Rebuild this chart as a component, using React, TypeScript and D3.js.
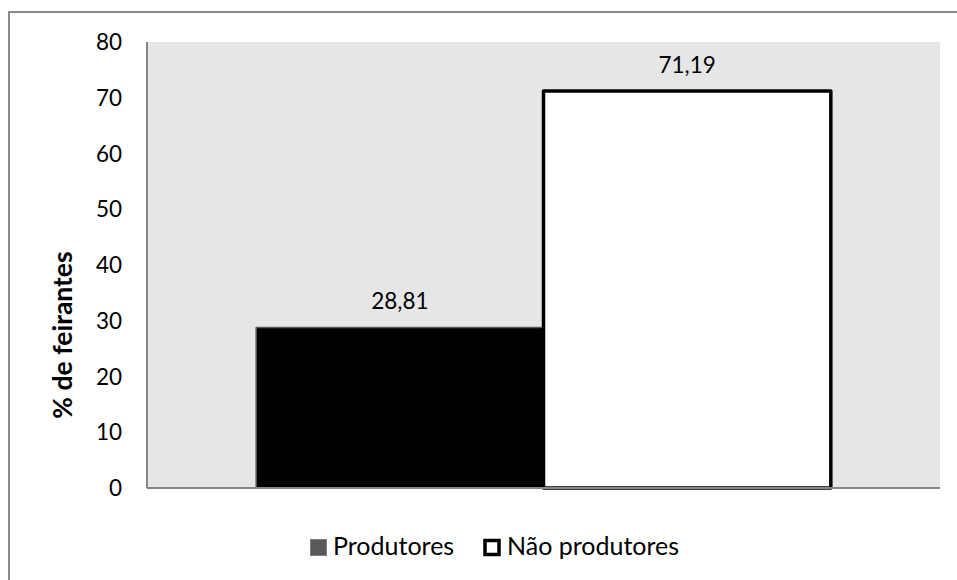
import React from "react";
import * as d3 from "d3";

const categories = ["Feirantes"];
const seriesNames = ["Produtores", "Não produtores"];
const seriesValues = [28.81, 71.19];
const valueLabels = ["28,81", "71,19"];
const yTicks = [0, 10, 20, 30, 40, 50, 60, 70, 80];

const W = 957;
const H = 580;
const plot = { left: 147, top: 42, right: 940, bottom: 488 };
const font = "Lato, Carlito, 'Open Sans', sans-serif";

export default function App() {
  const y = d3.scaleLinear().domain([0, 80]).range([plot.bottom, plot.top]);
  const x0 = d3
    .scaleBand<string>()
    .domain(categories)
    .range([plot.left, plot.right])
    .paddingInner(0)
    .paddingOuter(0.19);
  const x1 = d3
    .scaleBand<string>()
    .domain(seriesNames)
    .range([0, x0.bandwidth()])
    .padding(0);

  const styles = [
    { fill: "#000000", stroke: "#595959", sw: 1.5 },
    { fill: "#ffffff", stroke: "#000000", sw: 3.5 },
  ];

  return (
    <svg
      width={W}
      height={H}
      style={{ position: "absolute", left: 0, top: 0, background: "#fff" }}
    >
      {/* chart frame */}
      <rect x={9} y={12} width={W} height={H} fill="#fff" stroke="#898989" strokeWidth={2} />
      <rect x={plot.left} y={plot.top} width={plot.right - plot.left} height={plot.bottom - plot.top} fill="#e6e6e6" />

      {/* y tick labels */}
      {yTicks.map((t) => (
        <text
          key={t}
          x={122}
          y={y(t)}
          dy="0.36em"
          textAnchor="end"
          fontFamily={font}
          fontSize={22.5}
          fill="#000"
        >
          {t}
        </text>
      ))}

      {/* bars */}
      {categories.map((c) =>
        seriesNames.map((s, i) => {
          const bx = (x0(c) as number) + (x1(s) as number);
          const by = y(seriesValues[i]);
          const bw = x1.bandwidth();
          return (
            <g key={s}>
              <rect
                x={bx}
                y={by}
                width={bw}
                height={plot.bottom - by}
                fill={styles[i].fill}
                stroke={styles[i].stroke}
                strokeWidth={styles[i].sw}
                strokeLinejoin="round"
              />
              <text
                x={bx + bw / 2}
                y={by - 18}
                textAnchor="middle"
                fontFamily={font}
                fontSize={22.5}
                fill="#000"
              >
                {valueLabels[i]}
              </text>
            </g>
          );
        })
      )}

      {/* axes */}
      <line x1={plot.left} x2={plot.left} y1={plot.top} y2={plot.bottom} stroke="#868686" strokeWidth={2} />
      <line x1={plot.left} x2={plot.right} y1={plot.bottom} y2={plot.bottom} stroke="#868686" strokeWidth={2} />

      {/* y axis title */}
      <text
        transform={`translate(72,335) rotate(-90)`}
        textAnchor="middle"
        fontFamily={font}
        fontSize={26.5}
        fontWeight="bold"
        fill="#000"
      >
        % de feirantes
      </text>

      {/* legend */}
      <rect x={310.5} y={539.5} width={16} height={16} fill="#595959" stroke="#7f7f7f" strokeWidth={1} />
      <text x={333} y={555} fontFamily={font} fontSize={25} fill="#000">
        {seriesNames[0]}
      </text>
      <rect x={485} y={540.5} width={14} height={14} fill="#fff" stroke="#000" strokeWidth={3.5} />
      <text x={507} y={555} fontFamily={font} fontSize={25} fill="#000">
        {seriesNames[1]}
      </text>
    </svg>
  );
}
